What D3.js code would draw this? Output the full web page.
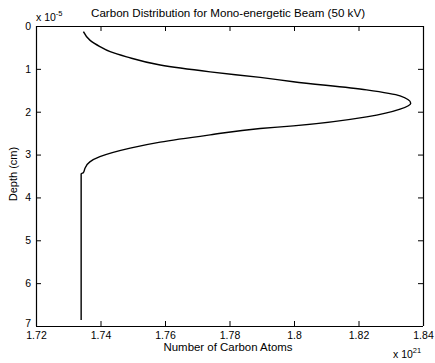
<!DOCTYPE html>
<html>
<head>
<meta charset="utf-8">
<script src="https://cdn.jsdelivr.net/npm/d3@7"></script>
<style>
  html, body { margin: 0; padding: 0; background: #fff; }
  svg { display: block; font-family: "Liberation Sans", Arial, sans-serif; }
</style>
</head>
<body>
<svg id="chart" width="435" height="363"></svg>
<script>
// Data (depth in units of 1e-5 cm, atoms in units of 1e21)
const depth = [0.13, 0.33, 0.48, 0.60, 0.72, 0.91, 1.07, 1.20, 1.30, 1.49, 1.63, 1.80,
               1.94, 2.12, 2.33, 2.39, 2.54, 2.71, 2.85, 3.05, 3.17, 3.32, 3.42, 3.45, 6.86];
const atoms = [1.7347, 1.7367, 1.7398, 1.7430, 1.7481, 1.7585, 1.7740, 1.7895, 1.7998, 1.8225, 1.8329, 1.8362,
               1.8329, 1.8225, 1.7998, 1.7895, 1.7740, 1.7585, 1.7492, 1.7398, 1.7367, 1.7352, 1.7347, 1.7340, 1.7340];
const xTicks = [1.72, 1.74, 1.76, 1.78, 1.80, 1.82, 1.84];
const xTickLabels = ["1.72", "1.74", "1.76", "1.78", "1.8", "1.82", "1.84"];
const yTicks = [0, 1, 2, 3, 4, 5, 6, 7];
const yTickLabels = ["0", "1", "2", "3", "4", "5", "6", "7"];
const title = "Carbon Distribution for Mono-energetic Beam (50 kV)";
const xLabel = "Number of Carbon Atoms";
const yLabel = "Depth (cm)";

(function () {
const svg = d3.select("#chart");
const L = 36, R = 423, T = 26, B = 326;
const x = d3.scaleLinear().domain([1.72, 1.84]).range([L, R]);
const y = d3.scaleLinear().domain([0, 7]).range([T, B]);
const tickLen = 5;

// curve
const pts = depth.map((d, i) => [atoms[i], d]);
svg.append("path")
  .datum(pts)
  .attr("fill", "none")
  .attr("stroke", "#000")
  .attr("stroke-width", 1.4)
  .attr("d", d3.line().x(d => x(d[0])).y(d => y(d[1])).curve(d3.curveMonotoneY));

// axes (box with inward ticks)
const gBottom = svg.append("g").attr("transform", `translate(0,${B})`)
  .call(d3.axisBottom(x).tickValues(xTicks).tickSize(-tickLen).tickPadding(6)
    .tickFormat((d, i) => xTickLabels[i]));
const gTop = svg.append("g").attr("transform", `translate(0,${T})`)
  .call(d3.axisTop(x).tickValues(xTicks).tickSize(-tickLen).tickFormat(""));
const gLeft = svg.append("g").attr("transform", `translate(${L},0)`)
  .call(d3.axisLeft(y).tickValues(yTicks).tickSize(-tickLen).tickPadding(5)
    .tickFormat((d, i) => yTickLabels[i]));
const gRight = svg.append("g").attr("transform", `translate(${R},0)`)
  .call(d3.axisRight(y).tickValues(yTicks).tickSize(-tickLen).tickFormat(""));

[gBottom, gTop, gLeft, gRight].forEach(g => {
  g.select(".domain").attr("stroke", "#000").attr("stroke-width", 1.2);
  g.selectAll(".tick line").attr("stroke", "#000").attr("stroke-width", 1);
  g.selectAll(".tick text").attr("fill", "#000").style("font-size", "10.5px")
    .style("font-family", "'Liberation Sans', Arial, sans-serif");
});
// lift the bottom y label slightly so it sits just above "1.72" as in the reference
gLeft.selectAll(".tick text").filter(d => d === 7).attr("dy", "0.05em");

gBottom.select(".domain").attr("d", `M${L},0.5H${R}`);
gTop.select(".domain").attr("d", `M${L},0.5H${R}`);
gLeft.select(".domain").attr("d", `M0.5,${T}V${B}`);
gRight.select(".domain").attr("d", `M0.5,${T}V${B}`);

// title
svg.append("text").attr("x", 228).attr("y", 17)
  .attr("text-anchor", "middle").style("font-size", "11px")
  .attr("textLength", 274).attr("lengthAdjust", "spacingAndGlyphs").text(title);

// x label
svg.append("text").attr("x", 228).attr("y", 351)
  .attr("text-anchor", "middle").style("font-size", "11px")
  .attr("textLength", 129).attr("lengthAdjust", "spacingAndGlyphs").text(xLabel);

// y label
svg.append("text").attr("transform", `translate(17,${(T + B) / 2 - 2}) rotate(-90)`)
  .attr("text-anchor", "middle").style("font-size", "11px").text(yLabel);

// exponent labels
const e1 = svg.append("text").attr("x", 36).attr("y", 21).style("font-size", "10.5px");
e1.append("tspan").text("x 10");
e1.append("tspan").attr("dy", -5).style("font-size", "7.5px").text("-5");

const e2 = svg.append("text").attr("x", 393).attr("y", 358).style("font-size", "10.5px");
e2.append("tspan").text("x 10");
e2.append("tspan").attr("dy", -5).style("font-size", "7.5px").text("21");
})();
</script>
</body>
</html>
